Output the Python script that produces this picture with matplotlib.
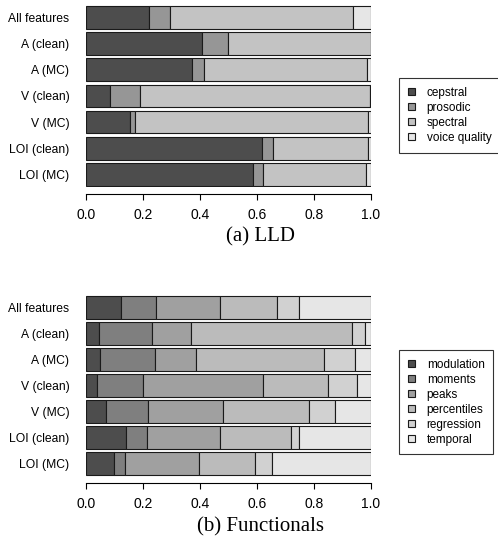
import matplotlib
matplotlib.use("Agg")
import matplotlib.pyplot as plt
from matplotlib.patches import Patch
import numpy as np

plt.rcParams['font.family'] = ['Liberation Sans', 'DejaVu Sans']

# data (shares, each row sums to ~1)
rows = ["All features", "A (clean)", "A (MC)", "V (clean)", "V (MC)", "LOI (clean)", "LOI (MC)"]

lld_names = ["cepstral", "prosodic", "spectral", "voice quality"]
lld_cepstral = [0.220, 0.406, 0.373, 0.085, 0.156, 0.618, 0.588]
lld_prosodic = [0.076, 0.092, 0.042, 0.106, 0.017, 0.039, 0.032]
lld_spectral = [0.643, 0.502, 0.573, 0.807, 0.816, 0.332, 0.364]
lld_voice = [0.061, 0.000, 0.012, 0.002, 0.011, 0.011, 0.016]

fun_names = ["modulation", "moments", "peaks", "percentiles", "regression", "temporal"]
fun_modulation = [0.123, 0.047, 0.050, 0.040, 0.071, 0.140, 0.098]
fun_moments = [0.124, 0.186, 0.193, 0.161, 0.148, 0.073, 0.038]
fun_peaks = [0.222, 0.137, 0.142, 0.422, 0.263, 0.258, 0.259]
fun_percentiles = [0.202, 0.565, 0.452, 0.227, 0.300, 0.247, 0.200]
fun_regression = [0.078, 0.045, 0.106, 0.100, 0.091, 0.031, 0.058]
fun_temporal = [0.251, 0.020, 0.057, 0.050, 0.127, 0.251, 0.347]

xticks = [0.0, 0.2, 0.4, 0.6, 0.8, 1.0]


def gray_colors(n, start=0.3, end=0.9, gamma=2.2):
    # like R's gray.colors()
    v = np.linspace(start ** gamma, end ** gamma, n) ** (1 / gamma)
    return [(g, g, g) for g in v]


def stacked(ax, parts, names):
    cols = gray_colors(len(parts))
    y = np.arange(len(rows))
    left = np.zeros(len(rows))
    for vals, c in zip(parts, cols):
        ax.barh(y, vals, left=left, height=0.87, color=c, edgecolor='#1a1a1a', linewidth=0.8)
        left += np.array(vals)
    ax.set_ylim(len(rows) - 0.5, -0.5)
    ax.set_xlim(0, 1)
    ax.set_yticks(y)
    ax.set_yticklabels(rows, fontsize=8.7)
    ax.set_xticks(xticks)
    ax.set_xticklabels([f"{t:.1f}" for t in xticks], fontsize=8.7)
    for s in ['top', 'right', 'left']:
        ax.spines[s].set_visible(False)
    ax.spines['bottom'].set_position(('outward', 4.5))
    ax.spines['bottom'].set_linewidth(0.8)
    ax.spines['bottom'].set_bounds(0, 1)
    ax.tick_params(axis='y', length=0, pad=12)
    ax.tick_params(axis='x', length=4, width=0.8, pad=6)
    handles = [Patch(facecolor=c, edgecolor='#1a1a1a', linewidth=0.8, label=n) for c, n in zip(cols, names)]
    return handles


fig = plt.figure(figsize=(4.98, 5.44), dpi=100)
ax1 = fig.add_axes([0.1727, 0.6555, 0.572, 0.3365])
ax2 = fig.add_axes([0.1727, 0.1235, 0.572, 0.3355])

h1 = stacked(ax1, [lld_cepstral, lld_prosodic, lld_spectral, lld_voice], lld_names)
h2 = stacked(ax2, [fun_modulation, fun_moments, fun_peaks, fun_percentiles, fun_regression, fun_temporal], fun_names)

leg_kw = dict(loc='upper left', fontsize=8.5, frameon=True, fancybox=False, edgecolor='black',
              handlelength=0.6, handleheight=0.6, handletextpad=1.0, labelspacing=0.25,
              borderpad=0.75, borderaxespad=0)
l1 = fig.legend(handles=h1, bbox_to_anchor=(399 / 498, 1 - 78 / 544), **leg_kw)
l2 = fig.legend(handles=h2, bbox_to_anchor=(399 / 498, 1 - 350 / 544), **leg_kw)
for l in (l1, l2):
    l.get_frame().set_linewidth(0.8)

fig.text(260 / 498, 1 - 237 / 544, "(a) LLD", ha='center', va='center', fontsize=15, family='Liberation Serif')
fig.text(260 / 498, 1 - 527 / 544, "(b) Functionals", ha='center', va='center', fontsize=15, family='Liberation Serif')

fig.savefig("out.png", dpi=100)
